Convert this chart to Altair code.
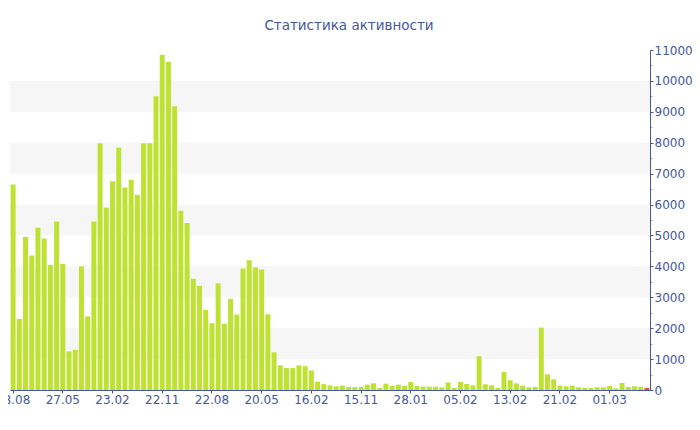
import altair as alt
import pandas as pd

title_text = "Статистика активности"

values = [
    6650, 2300, 4950, 4350, 5250, 4900, 4050, 5450, 4080, 1250,
    1300, 4000, 2380, 5450, 7980, 5900, 6750, 7840, 6550, 6800,
    6320, 7980, 7980, 9500, 10850, 10620, 9180, 5800, 5400, 3600,
    3370, 2590, 2160, 3450, 2140, 2950, 2440, 3930, 4200, 3970,
    3900, 2450, 1220, 800, 710, 710, 800, 770, 630, 270,
    190, 150, 120, 145, 100, 97, 97, 173, 216, 65,
    205, 130, 173, 140, 259, 130, 108, 108, 108, 86,
    248, 65, 259, 194, 151, 1090, 183, 151, 65, 583,
    313, 216, 140, 86, 97, 2018, 507, 345, 140, 119,
    140, 86, 65, 65, 86, 86, 130, 54, 227, 97,
    119, 108, 65,
]

tick_labels = ["28.08", "27.05", "23.02", "22.11", "22.08", "20.05", "16.02",
               "15.11", "28.01", "05.02", "13.02", "21.02", "01.03"]
label_step = 8

band_starts = [1000, 3000, 5000, 7000, 9000]
band_ends = [2000, 4000, 6000, 8000, 10000]

y_max = 11000
y_tick_values = list(range(0, y_max + 1, 500))

BLUE = "#4457a3"
GREEN = "#bde232"
RED = "#e4532b"
BAND = "#f6f6f6"
MINOR = "#a0a8c8"
FONT = "DejaVu Sans"

last_index = len(values) - 1
df = pd.DataFrame({"i": list(range(len(values))), "v": values})
bands_df = pd.DataFrame({"y0": band_starts, "y1": band_ends})

label_array = "[" + ",".join("'" + t + "'" for t in tick_labels) + "]"
tick_positions = [k * label_step for k in range(len(tick_labels))]

y_scale = alt.Scale(domain=[0, y_max], nice=False)

y_axis = alt.Axis(
    orient="right",
    title=None,
    values=y_tick_values,
    format="d",
    labelExpr="datum.value % 1000 == 0 ? datum.label : ''",
    labelColor=BLUE,
    labelFont=FONT,
    labelFontSize=12,
    labelPadding=1,
    labelOverlap=False,
    tickColor={"condition": {"test": "datum.value % 1000 == 0", "value": BLUE}, "value": MINOR},
    tickSize={"condition": {"test": "datum.value % 1000 == 0", "value": 3}, "value": 2},
    domainColor=BLUE,
    grid=False,
)

bands = alt.Chart(bands_df).mark_rect(color=BAND).encode(
    y=alt.Y("y0:Q", scale=y_scale, axis=y_axis),
    y2="y1:Q",
    x=alt.value(0),
    x2=alt.value("width"),
)

bars = alt.Chart(df).mark_bar().encode(
    x=alt.X(
        "i:O",
        scale=alt.Scale(paddingInner=0.2, paddingOuter=0.1),
        axis=alt.Axis(
            title=None,
            values=tick_positions,
            labelExpr=label_array + "[datum.value / " + str(label_step) + "]",
            labelAngle=0,
            labelColor=BLUE,
            labelFont=FONT,
            labelFontSize=12,
            labelPadding=1,
            tickSize=3,
            tickColor=BLUE,
            domainColor=BLUE,
            bandPosition=0.5,
            labelOverlap=False,
        ),
    ),
    y=alt.Y("v:Q", scale=y_scale, axis=y_axis),
    color=alt.condition(alt.datum.i == last_index, alt.value(RED), alt.value(GREEN)),
)

chart = alt.layer(bands, bars).properties(
    width=640,
    height=340,
    background="white",
    title=alt.TitleParams(
        title_text,
        color=BLUE,
        font=FONT,
        fontSize=13.5,
        fontWeight="normal",
        anchor="middle",
        dx=19,
        offset=12,
    ),
    autosize=alt.AutoSizeParams(type="none"),
    padding={"left": 2, "top": 42, "right": 42, "bottom": 40},
).configure_view(stroke=None)

chart.save("out.html", embed_options={"renderer": "svg", "actions": False})
